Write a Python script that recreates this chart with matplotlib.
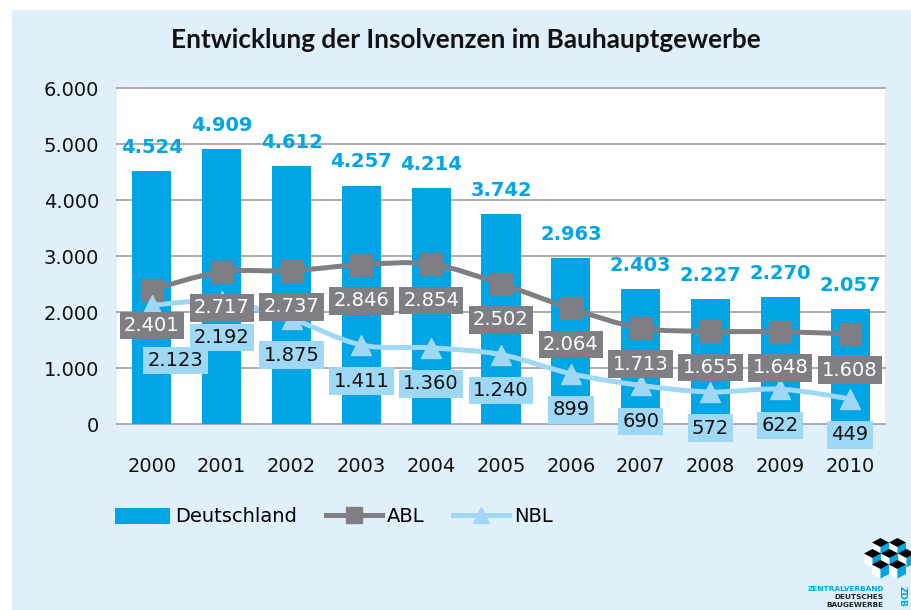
import numpy as np
import matplotlib
matplotlib.use('agg')
import matplotlib.pyplot as plt
from matplotlib.path import Path
from matplotlib.patches import PathPatch, Polygon, Rectangle
from matplotlib.lines import Line2D
from matplotlib.ticker import FuncFormatter

years = ['2000', '2001', '2002', '2003', '2004', '2005',
         '2006', '2007', '2008', '2009', '2010']
deutschland = [4524, 4909, 4612, 4257, 4214, 3742, 2963, 2403, 2227, 2270, 2057]
abl = [2401, 2717, 2737, 2846, 2854, 2502, 2064, 1713, 1655, 1648, 1608]
nbl = [2123, 2192, 1875, 1411, 1360, 1240, 899, 690, 572, 622, 449]
series_names = ['Deutschland', 'ABL', 'NBL']
title = 'Entwicklung der Insolvenzen im Bauhauptgewerbe'

# colours
panel = '#dff0fa'
blue = '#00a5e6'
grey = '#7f7e84'
light = '#9fd8f4'
grid = '#a6a6a6'

W, H = 912, 610


def de_format(v):
    # german thousands separator
    return '{:,.0f}'.format(v).replace(',', '.')


def smooth_path(xs, ys, t=1 / 6):
    # catmull-rom through the points, as bezier segments
    pts = np.column_stack([xs, ys]).astype(float)
    n = len(pts)
    verts = [pts[0]]
    codes = [Path.MOVETO]
    for i in range(n - 1):
        p0 = pts[max(i - 1, 0)]
        p1 = pts[i]
        p2 = pts[i + 1]
        p3 = pts[min(i + 2, n - 1)]
        verts += [p1 + (p2 - p0) * t, p2 - (p3 - p1) * t, p2]
        codes += [Path.CURVE4] * 3
    return Path(verts, codes)


fig = plt.figure(figsize=(W / 100, H / 100), dpi=100)
fig.patch.set_facecolor('white')
fig.add_artist(Rectangle((12 / W, 0), 1, 600 / H, transform=fig.transFigure,
                         color=panel, zorder=-10))

fig.text(466 / W, 1 - 40 / H, title, ha='center', va='center',
         fontsize=18.8, fontweight='bold', family='Lato', color='#111111')

ax = fig.add_axes([117 / W, 1 - 424 / H, 768 / W, 336 / H])
ax.set_facecolor('white')
x = np.arange(len(years))

ax.bar(x, deutschland, width=0.56, color=blue, zorder=2)

ax.set_xlim(-0.5, 10.5)
ax.set_ylim(0, 6000)
yticks = list(range(0, 6001, 1000))
ax.set_yticks(yticks)
ax.yaxis.set_major_formatter(FuncFormatter(lambda v, p: de_format(v)))
for y in yticks:
    ax.axhline(y, color=grid, lw=1.3, zorder=1, clip_on=False)
for s in ax.spines.values():
    s.set_visible(False)
ax.set_xticks(x, years)
ax.tick_params(axis='both', length=0, labelsize=14, labelcolor='#111111')
ax.tick_params(axis='y', pad=13)
ax.tick_params(axis='x', pad=24)

# smoothed lines with markers
ax.add_patch(PathPatch(smooth_path(x, abl), fill=False, ec=grey, lw=3.6, zorder=3))
ax.plot(x, abl, ls='none', marker='s', ms=16, color=grey, zorder=4)
ax.add_patch(PathPatch(smooth_path(x, nbl), fill=False, ec=light, lw=3.6, zorder=3))
ax.plot(x, nbl, ls='none', marker='^', ms=14, color=light, zorder=4)

# value labels
for i, v in enumerate(deutschland):
    ax.annotate(de_format(v), (i, v), xytext=(0, 17), textcoords='offset points',
                ha='center', va='center', fontsize=14, fontweight='bold',
                color=blue, zorder=6)

for i, v in enumerate(abl):
    ax.annotate(de_format(v), (i, v), xytext=(0, -26), textcoords='offset points',
                ha='center', va='center', fontsize=14, color='white', zorder=6,
                bbox=dict(boxstyle='square,pad=0.22', fc=grey, ec='none'))

nbl_shift = [(17, -40)] + [(0, -26)] * (len(nbl) - 1)
for i, v in enumerate(nbl):
    ax.annotate(de_format(v), (i, v), xytext=nbl_shift[i], textcoords='offset points',
                ha='center', va='center', fontsize=14, color='#111111', zorder=6,
                bbox=dict(boxstyle='square,pad=0.22', fc=light, ec='none'))

handles = [Rectangle((0, 0), 1, 1, fc=blue, ec='none'),
           Line2D([], [], color=grey, lw=3.6, marker='s', ms=12),
           Line2D([], [], color=light, lw=3.6, marker='^', ms=12)]
fig.legend(handles, series_names, loc='center left',
           bbox_to_anchor=(115 / W, 1 - 517 / H), ncol=3, frameon=False,
           fontsize=14, handlelength=2.85, handleheight=0.9, handletextpad=0.25,
           columnspacing=1.5, borderaxespad=0, borderpad=0)

# logo
lg = fig.add_axes([812 / W, 0, 100 / W, 80 / H])
lg.set_xlim(812, 912)
lg.set_ylim(610, 530)
lg.axis('off')
cubes = [(880.5, 538), (897.5, 538),
         (872.5, 549), (889.5, 549), (906.5, 549),
         (880.5, 560), (897.5, 560)]
w, h, s = 8.5, 4.5, 9.5
for cx, ty in cubes:
    lg.add_patch(Polygon([(cx - w, ty + h), (cx, ty + 2 * h), (cx, ty + 2 * h + s),
                          (cx - w, ty + h + s)], closed=True, fc='white', ec='none'))
    lg.add_patch(Polygon([(cx, ty + 2 * h), (cx + w, ty + h), (cx + w, ty + h + s),
                          (cx, ty + 2 * h + s)], closed=True, fc=blue, ec='none'))
    lg.add_patch(Polygon([(cx, ty), (cx + w, ty + h), (cx, ty + 2 * h),
                          (cx - w, ty + h)], closed=True, fc='black', ec='none'))
lg.text(884, 589, 'ZENTRALVERBAND', ha='right', va='center', fontsize=5.3,
        fontweight='bold', color=blue)
lg.text(884, 597, 'DEUTSCHES', ha='right', va='center', fontsize=5.3,
        fontweight='bold', color='#222222')
lg.text(884, 605, 'BAUGEWERBE', ha='right', va='center', fontsize=5.3,
        fontweight='bold', color='#222222')
lg.text(902, 596, 'ZDB', ha='center', va='center', rotation=270, fontsize=6.5,
        fontweight='bold', color=blue)

fig.savefig('out.png', dpi=100, facecolor=fig.get_facecolor())
